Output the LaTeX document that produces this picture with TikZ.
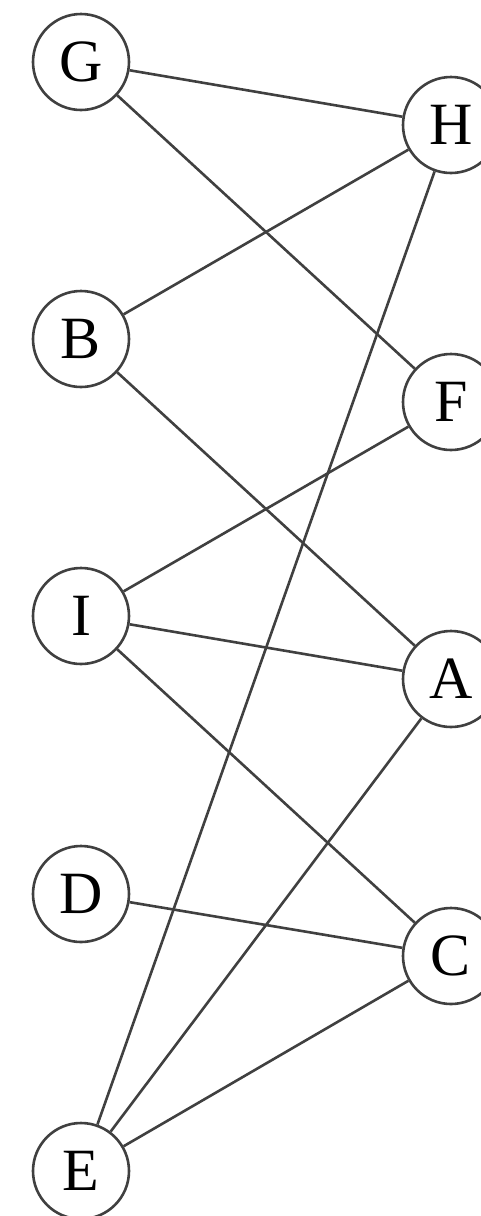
\documentclass[tikz,border=0pt]{standalone}
\usepackage{fontspec}
\setmainfont{Liberation Serif}
\begin{document}
\begin{tikzpicture}[x=1pt,y=-1pt,
  vtx/.style={circle,draw=black!75,line width=2.6pt,fill=white,minimum size=96pt,inner sep=0pt,font=\fontsize{60}{60}\selectfont},
  edge/.style={draw=black!75,line width=2.6pt}]
\useasboundingbox (0,0) rectangle (481,1216);
\node[vtx] (G) at (81,62) {G};
\node[vtx] (B) at (81,339) {B};
\node[vtx] (I) at (81,616) {I};
\node[vtx] (D) at (81,894) {D};
\node[vtx] (E) at (81,1171) {E};
\node[vtx] (H) at (451,125) {H};
\node[vtx] (F) at (451,402) {F};
\node[vtx] (A) at (451,679) {A};
\node[vtx] (C) at (451,956) {C};
\foreach \a/\b in {G/H,G/F,B/H,B/A,I/F,I/A,I/C,D/C,E/H,E/A,E/C}
  \draw[edge] (\a) -- (\b);
\end{tikzpicture}
\end{document}
